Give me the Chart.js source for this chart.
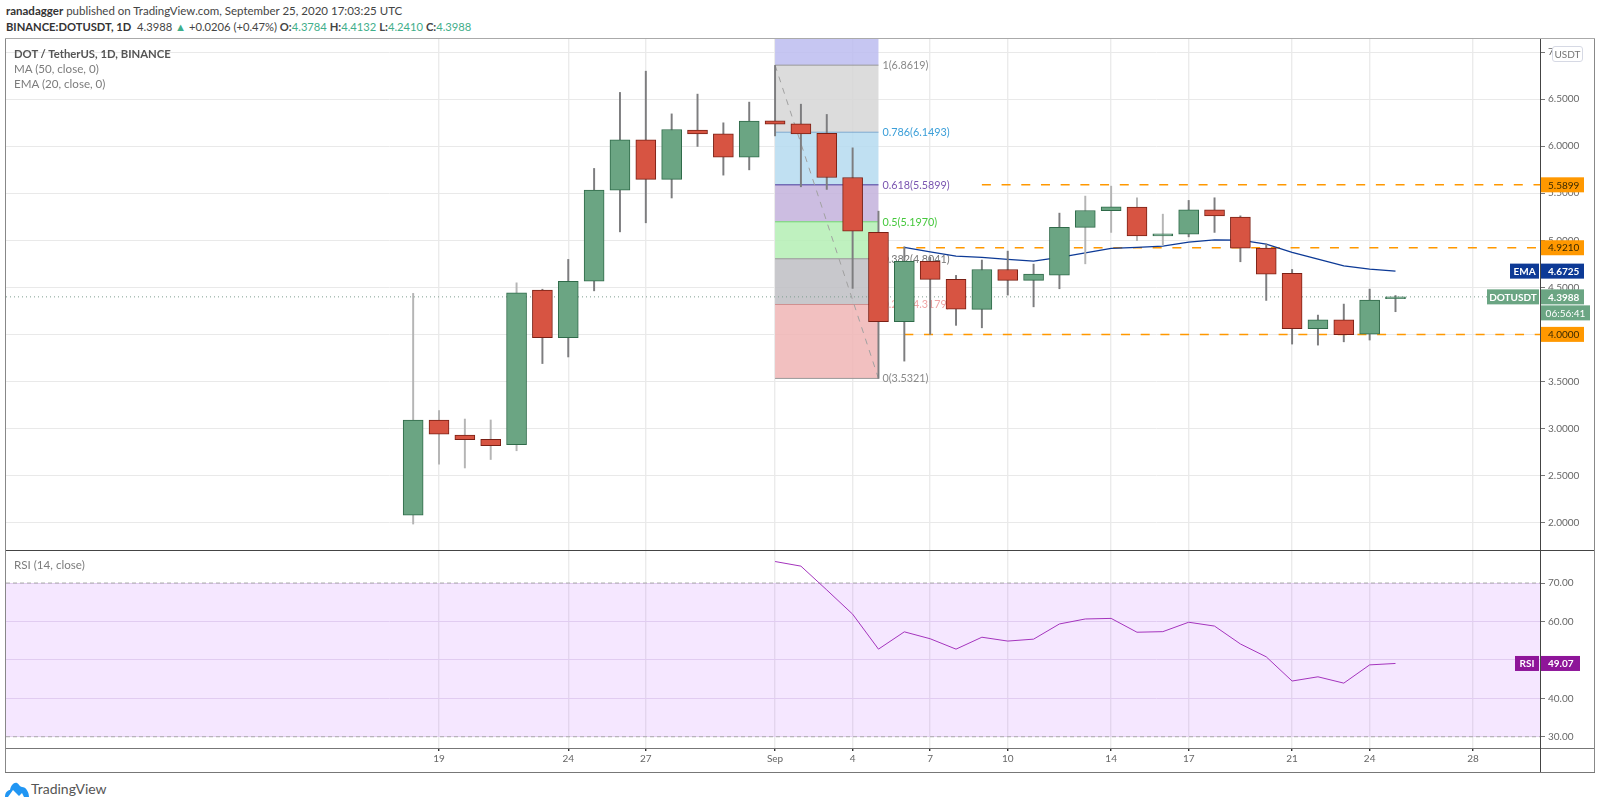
<!DOCTYPE html>
<html>
<head>
<meta charset="utf-8">
<title>DOT / TetherUS, 1D</title>
<script src="https://cdn.jsdelivr.net/npm/chart.js@4/dist/chart.umd.min.js"></script>
<style>
  html, body { margin: 0; padding: 0; background: #fff; overflow: hidden; }
  body { width: 1600px; height: 805px; position: relative; font-family: Lato, sans-serif; }
  canvas { position: absolute; display: block; }
  #priceChart { left: 6px; top: 39px; }
  #rsiChart   { left: 6px; top: 550px; }
  .txt { position: absolute; white-space: nowrap; line-height: 16px; font-size: 11.5px; }
  .line { position: absolute; background: #555; }
  .up { color: #3fae8a; }
  .legend { color: #7c7c7c; font-size: 11.6px; }
  #usdt {
    position: absolute; left: 1552px; top: 46px; width: 29px; height: 14px;
    border: 1px solid #d6d9e4; border-radius: 3px; background: #fff;
    font-size: 10px; line-height: 14px; text-align: center; color: #777;
  }
</style>
</head>
<body>
<canvas id="priceChart" width="1588" height="511"></canvas>
<canvas id="rsiChart" width="1588" height="222"></canvas>

<!-- frame lines -->
<div class="line" style="left:5px;top:39px;width:1px;height:733px;background:#888"></div>
<div class="line" style="left:1594px;top:39px;width:1px;height:733px;background:#888"></div>
<div class="line" style="left:5px;top:38px;width:1590px;height:1px;background:#aaa"></div>
<div class="line" style="left:5px;top:772px;width:1590px;height:1px;background:#777"></div>
<div class="line" style="left:6px;top:550px;width:1588px;height:1px;background:#444"></div>
<div class="line" style="left:6px;top:748px;width:1588px;height:1px;background:#777"></div>
<div class="line" style="left:1540px;top:39px;width:1px;height:733px;background:#444"></div>

<div class="txt" style="left:6px;top:3px;color:#444"><b style="font-weight:700;color:#333">ranadagger</b> published on TradingView.com, September 25, 2020 17:03:25 UTC</div>
<div class="txt" style="left:6px;top:19px;color:#444;font-size:11.2px"><b style="font-weight:700;color:#333">BINANCE:DOTUSDT, 1D</b>&nbsp; 4.3988 <span class="up">▲</span> +0.0206 (+0.47%) <b>O:</b><span class="up">4.3784</span> <b>H:</b><span class="up">4.4132</span> <b>L:</b><span class="up">4.2410</span> <b>C:</b><span class="up">4.3988</span></div>

<div class="txt" style="left:14px;top:46px;color:#555;font-weight:700;font-size:11.3px">DOT / TetherUS, 1D, BINANCE</div>
<div class="txt legend" style="left:14px;top:61px">MA (50, close, 0)</div>
<div class="txt legend" style="left:14px;top:76px">EMA (20, close, 0)</div>
<div class="txt legend" style="left:14px;top:557px">RSI (14, close)</div>
<div id="usdt">USDT</div>

<svg style="position:absolute;left:5px;top:781px" width="24" height="16" viewBox="0 0 24 16">
  <path d="M0 16 C0 11 3 9 5 9 C6 4 9 1 12 2 C14 3 15 6 17 6 C21 6 24 11 24 16 L19 16 L17 12 L14 15 L8 9 L3 16 Z" fill="#2196f3"/>
</svg>
<div class="txt" style="left:31px;top:781px;font-size:14px;color:#555">TradingView</div>

<script>
/* ── Data ───────────────────────────────────────────────────── */
const dayLabels = [
  "Aug 18", "Aug 19", "Aug 20", "Aug 21", "Aug 22", "Aug 23", "Aug 24", "Aug 25", "Aug 26", "Aug 27",
  "Aug 28", "Aug 29", "Aug 30", "Aug 31", "Sep 1", "Sep 2", "Sep 3", "Sep 4", "Sep 5", "Sep 6",
  "Sep 7", "Sep 8", "Sep 9", "Sep 10", "Sep 11", "Sep 12", "Sep 13", "Sep 14", "Sep 15", "Sep 16",
  "Sep 17", "Sep 18", "Sep 19", "Sep 20", "Sep 21", "Sep 22", "Sep 23", "Sep 24", "Sep 25",
];
const openPrices = [
  2.077, 3.089, 2.93, 2.884, 2.827, 4.47, 3.964, 4.566, 5.533, 6.068,
  5.647, 6.171, 6.132, 5.884, 6.27, 6.238, 6.136, 5.668, 5.084, 4.134,
  4.776, 4.584, 4.266, 4.69, 4.574, 4.63, 5.137, 5.314, 5.353, 5.048,
  5.066, 5.324, 5.247, 4.917, 4.648, 4.06, 4.155, 4.003, 4.3784,
];
const highPrices = [
  4.436, 3.19, 3.10, 3.09, 4.548, 4.48, 4.797, 5.764, 6.572, 6.798,
  6.344, 6.554, 6.249, 6.469, 6.859, 6.447, 6.338, 5.983, 5.31, 4.931,
  4.82, 4.627, 4.79, 4.885, 4.747, 5.289, 5.47, 5.576, 5.452, 5.278,
  5.424, 5.452, 5.26, 4.96, 4.69, 4.205, 4.322, 4.481, 4.4132,
];
const lowPrices = [
  1.984, 2.62, 2.58, 2.67, 2.763, 3.69, 3.76, 4.463, 5.09, 5.186,
  5.45, 5.998, 5.693, 5.749, 6.11, 5.569, 5.541, 4.489, 3.532, 3.716,
  4.0, 4.096, 4.07, 4.418, 4.293, 4.485, 4.75, 5.084, 4.995, 4.949,
  5.037, 5.084, 4.772, 4.361, 3.897, 3.886, 3.921, 3.94, 4.241,
];
const closePrices = [
  3.089, 2.94, 2.88, 2.816, 4.442, 3.964, 4.563, 5.533, 6.068, 5.647,
  6.178, 6.132, 5.884, 6.267, 6.235, 6.132, 5.668, 5.098, 4.134, 4.776,
  4.584, 4.269, 4.69, 4.574, 4.64, 5.137, 5.317, 5.356, 5.048, 5.069,
  5.324, 5.26, 4.917, 4.641, 4.06, 4.155, 3.996, 4.364, 4.3988,
];

/* EMA and RSI do not start on the first candle */
const emaStart = 19;
const emaValues = [
  4.925, 4.878, 4.832, 4.818, 4.797, 4.779, 4.818, 4.867, 4.914, 4.925,
  4.938, 4.981, 5.005, 5.002, 4.96, 4.871, 4.80, 4.729, 4.694, 4.6725,
];
const rsiStart = 14;
const rsiValues = [
  75.6, 74.4, 68.2, 61.9, 52.8, 57.3, 55.5, 52.8, 55.9, 54.9, 55.4, 59.35, 60.65,
  60.8, 57.2, 57.35, 59.8, 58.8, 54.15, 50.8, 44.5, 45.6, 43.95, 48.7, 49.07,
];

/* Time axis: position of each tick counted in days from Aug 18 */
const tickDays = [1, 6, 9, 14, 17, 20, 23, 27, 30, 34, 37, 41];
const tickNames = ["19", "24", "27", "Sep", "4", "7", "10", "14", "17", "21", "24", "28"];

/* Price and RSI axis ticks */
const priceTicks = [2, 2.5, 3, 3.5, 4, 4.5, 5, 5.5, 6, 6.5, 7];
const rsiTicks = [30, 40, 50, 60, 70];

/* Fibonacci retracement drawn over Sep 1 - Sep 5 */
const fibRatios = ["1", "0.786", "0.618", "0.5", "0.382", "0.236", "0"];
const fibPrices = [6.8619, 6.1493, 5.5899, 5.197, 4.8041, 4.3179, 3.5321];
const fibStartDay = 14;
const fibEndDay = 18;

/* Horizontal support / resistance lines: price and first day */
const levelPrices = [5.5899, 4.921, 4.0];
const levelStartDays = [22, 18.7, 19];

const lastPrice = 4.3988;
const lastEma = 4.6725;
const lastRsi = 49.07;
const countdown = "06:56:41";

/* Candles whose wick looks washed out in the picture */
const paleWickDays = [0, 1, 2, 3, 4, 26, 27, 28, 29];

/* ── Shared view range of the time axis ─────────────────────── */
const DAY_MIN = -15.75;
const DAY_MAX = 43.59;

const UP = "#6ba583";
const DOWN = "#d75442";
const UP_EDGE = "#2f6a49";
const DOWN_EDGE = "#7a2015";
const FONT_FAMILY = "Lato, sans-serif";
const LABEL_FONT = "10px " + FONT_FAMILY;
const AXIS_WIDTH = 54;

/* Fill per fib band, first one sits above the 1 level */
const fibFills = [
  "rgba(188,188,240,.85)", "rgba(214,214,214,.85)", "rgba(181,218,240,.85)",
  "rgba(195,178,220,.85)", "rgba(180,238,180,.85)", "rgba(190,190,195,.85)", "rgba(240,181,181,.85)",
];
const fibLineColors = ["#999", "#7da9cf", "#4a3a9a", "#6fd66f", "#999", "#d09090", "#999"];
const fibTextColors = ["#888", "#3a9ed8", "#7a55b0", "#45c83c", "#777", "#f0a5a5", "#888"];

function priceOf(v) { return v.toFixed(4); }

/* Pins the y axis width and stops tick labels from shifting the plot area */
function fixYAxis(scale) {
  scale.width = AXIS_WIDTH;
  scale.paddingTop = 0;
  scale.paddingBottom = 0;
}

function setTimeTicks(scale) {
  scale.ticks = tickDays.map((d) => ({ value: d }));
}

function timeAxis(height, showLabels) {
  return {
    type: "linear",
    min: DAY_MIN,
    max: DAY_MAX,
    offset: false,
    afterBuildTicks: setTimeTicks,
    afterFit(scale) {
      scale.height = height;
      scale.paddingLeft = 0;
      scale.paddingRight = 0;
    },
    border: { display: false },
    grid: { offset: false, color: "#ebebeb", lineWidth: 1.4, drawTicks: showLabels, tickLength: 3, tickColor: "#333" },
    ticks: {
      display: showLabels,
      autoSkip: false,
      maxRotation: 0,
      padding: 2,
      color: "#666",
      font: { family: FONT_FAMILY, size: 10 },
      callback: (v) => tickNames[tickDays.indexOf(v)],
    },
  };
}

function drawTag(ctx, left, right, cy, bg, fg, text, bold, alignLeft) {
  ctx.fillStyle = bg;
  ctx.fillRect(left, cy - 7.5, right - left, 15);
  ctx.fillStyle = fg;
  ctx.font = (bold ? "700 " : "") + LABEL_FONT;
  ctx.textBaseline = "middle";
  ctx.textAlign = alignLeft ? "left" : "center";
  ctx.fillText(text, alignLeft ? left + 7 : (left + right) / 2, cy + 0.5);
}

/* ── Plugins ────────────────────────────────────────────────── */
/* Fib bands and labels go under the candles */
const fibPlugin = {
  id: "fib",
  beforeDatasetsDraw(chart) {
    const { ctx, chartArea, scales } = chart;
    const left = scales.x.getPixelForValue(fibStartDay);
    const right = scales.x.getPixelForValue(fibEndDay);
    ctx.save();
    let top = chartArea.top;
    fibPrices.forEach((p, n) => {
      const y = scales.y.getPixelForValue(p);
      ctx.fillStyle = fibFills[n];
      ctx.fillRect(left, top, right - left, y - top);
      top = y;
    });
    ctx.textBaseline = "middle";
    ctx.textAlign = "left";
    ctx.font = "10.8px " + FONT_FAMILY;
    fibPrices.forEach((p, n) => {
      const y = scales.y.getPixelForValue(p);
      ctx.fillStyle = fibLineColors[n];
      ctx.fillRect(left, y - 0.5, right - left, 1);
      ctx.fillStyle = fibTextColors[n];
      ctx.fillText(fibRatios[n] + "(" + priceOf(p) + ")", right + 4, y + 0.5);
    });
    ctx.restore();
  },
};

const priceTagsPlugin = {
  id: "priceTags",
  afterDraw(chart) {
    const { ctx, chartArea, scales } = chart;
    const axisX = chartArea.right;
    const right = axisX + 44;
    ctx.save();
    levelPrices.forEach((p) => {
      drawTag(ctx, axisX + 1, right, scales.y.getPixelForValue(p), "#ff9800", "#3a2a00", priceOf(p), false, true);
    });
    const emaY = scales.y.getPixelForValue(lastEma);
    drawTag(ctx, axisX - 30, axisX - 1, emaY, "#0d3a96", "#fff", "EMA", true);
    drawTag(ctx, axisX + 1, right, emaY, "#0d3a96", "#fff", priceOf(lastEma), true, true);
    const lastY = scales.y.getPixelForValue(lastPrice);
    drawTag(ctx, axisX - 53, axisX - 1, lastY, UP, "#fff", "DOTUSDT", true);
    drawTag(ctx, axisX + 1, right, lastY, UP, "#fff", priceOf(lastPrice), true, true);
    drawTag(ctx, axisX + 1, axisX + 50, lastY + 16, UP, "#fff", countdown, false);
    ctx.restore();
  },
};

const rsiBandPlugin = {
  id: "rsiBand",
  beforeDatasetsDraw(chart) {
    const { ctx, chartArea, scales } = chart;
    const top = scales.y.getPixelForValue(70);
    const bottom = scales.y.getPixelForValue(30);
    ctx.save();
    ctx.fillStyle = "rgba(170,60,255,.12)";
    ctx.fillRect(chartArea.left, top, chartArea.width, bottom - top);
    ctx.strokeStyle = "#aaa";
    ctx.setLineDash([4, 3]);
    ctx.lineWidth = 1;
    [top, bottom].forEach((y) => {
      ctx.beginPath();
      ctx.moveTo(chartArea.left, y);
      ctx.lineTo(chartArea.right, y);
      ctx.stroke();
    });
    ctx.restore();
  },
  afterDraw(chart) {
    const { ctx, chartArea, scales } = chart;
    const y = scales.y.getPixelForValue(lastRsi);
    ctx.save();
    /* The tag hides the 50.00 tick right above it */
    ctx.fillStyle = "#fff";
    ctx.fillRect(chartArea.right + 1, y - 10, 40, 4);
    drawTag(ctx, chartArea.right - 25, chartArea.right - 1, y, "#8e1599", "#fff", "RSI", true);
    drawTag(ctx, chartArea.right + 1, chartArea.right + 40, y, "#8e1599", "#fff", lastRsi.toFixed(2), true, true);
    ctx.restore();
  },
};

/* ── Price pane ─────────────────────────────────────────────── */
const isUp = closePrices.map((c, i) => c >= openPrices[i]);

const levelDatasets = levelPrices.map((p, n) => ({
  type: "line",
  data: [{ x: levelStartDays[n], y: p }, { x: DAY_MAX, y: p }],
  borderColor: "#ff9800",
  borderWidth: 1.5,
  borderDash: [9, 10.7],
  pointRadius: 0,
  order: 5,
}));

new Chart(document.getElementById("priceChart"), {
  data: {
    datasets: [
      {
        /* candle bodies */
        type: "bar",
        data: dayLabels.map((_, i) => ({ x: i, y: [openPrices[i], closePrices[i]] })),
        backgroundColor: isUp.map((u) => (u ? UP : DOWN)),
        borderColor: isUp.map((u) => (u ? UP_EDGE : DOWN_EDGE)),
        borderWidth: 1,
        borderSkipped: false,
        barThickness: 20,
        grouped: false,
        order: 1,
      },
      {
        /* candle wicks */
        type: "bar",
        data: dayLabels.map((_, i) => ({ x: i, y: [lowPrices[i], highPrices[i]] })),
        backgroundColor: dayLabels.map((_, i) => (paleWickDays.includes(i) ? "#b5b5b5" : "#7d7d7f")),
        barThickness: 1.3,
        grouped: false,
        order: 2,
      },
      {
        type: "line",
        data: emaValues.map((v, n) => ({ x: emaStart + n, y: v })),
        borderColor: "#0d3a96",
        borderWidth: 1.3,
        pointRadius: 0,
        order: 3,
      },
      {
        /* fib trend line */
        type: "line",
        data: [{ x: fibStartDay, y: fibPrices[0] }, { x: fibEndDay, y: fibPrices[6] }],
        borderColor: "#a0a0a0",
        borderWidth: 1,
        borderDash: [6, 6],
        pointRadius: 0,
        order: 4,
      },
      ...levelDatasets,
      {
        /* last price dotted line */
        type: "line",
        data: [{ x: DAY_MIN, y: lastPrice }, { x: DAY_MAX, y: lastPrice }],
        borderColor: "#7f9f90",
        borderWidth: 1,
        borderDash: [1, 3],
        pointRadius: 0,
        order: 6,
      },
    ],
  },
  options: {
    responsive: false,
    animation: false,
    devicePixelRatio: 1,
    layout: { padding: 0 },
    plugins: { legend: { display: false }, tooltip: { enabled: false } },
    scales: {
      x: timeAxis(0, false),
      y: {
        position: "right",
        min: 1.708,
        max: 7.14,
        afterFit: fixYAxis,
        afterBuildTicks(scale) { scale.ticks = priceTicks.map((v) => ({ value: v })); },
        border: { display: false },
        grid: { color: "#e9e9e9", lineWidth: 1, tickLength: 5, tickColor: "#777" },
        ticks: {
          padding: 3,
          color: "#666",
          font: { family: FONT_FAMILY, size: 10 },
          callback: (v) => priceOf(v),
        },
      },
    },
  },
  plugins: [fibPlugin, priceTagsPlugin],
});

/* ── RSI pane ───────────────────────────────────────────────── */
new Chart(document.getElementById("rsiChart"), {
  data: {
    datasets: [
      {
        type: "line",
        data: rsiValues.map((v, n) => ({ x: rsiStart + n, y: v })),
        borderColor: "#a434bd",
        borderWidth: 1,
        pointRadius: 0,
      },
    ],
  },
  options: {
    responsive: false,
    animation: false,
    devicePixelRatio: 1,
    layout: { padding: 0 },
    plugins: { legend: { display: false }, tooltip: { enabled: false } },
    scales: {
      x: timeAxis(24, true),
      y: {
        position: "right",
        min: 27.07,
        max: 78.6,
        afterFit: fixYAxis,
        afterBuildTicks(scale) { scale.ticks = rsiTicks.map((v) => ({ value: v })); },
        border: { display: false },
        grid: { color: "#e9e1ef", lineWidth: 1, tickLength: 5, tickColor: "#777" },
        ticks: {
          padding: 3,
          color: "#666",
          font: { family: FONT_FAMILY, size: 10 },
          callback: (v) => v.toFixed(2),
        },
      },
    },
  },
  plugins: [rsiBandPlugin],
});
</script>
</body>
</html>
